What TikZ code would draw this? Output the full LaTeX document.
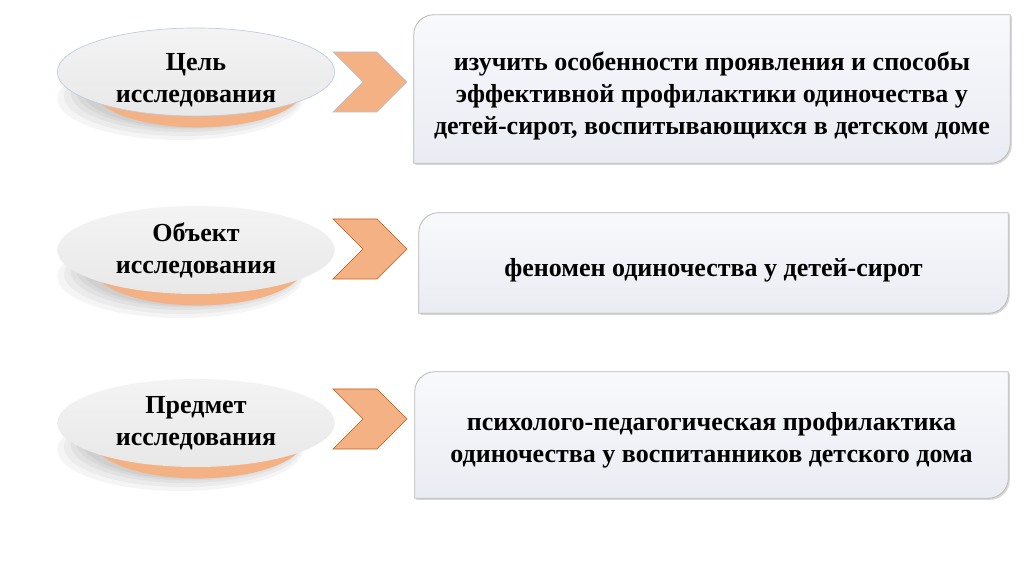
\documentclass[tikz,border=0pt]{standalone}
\usepackage{fontspec}
\setmainfont{Liberation Serif}
\usepackage{tikz}
\usetikzlibrary{shapes.geometric,shadows,positioning}
\pgfdeclarelayer{bg}
\pgfsetlayers{bg,main}
\definecolor{peach}{RGB}{244,177,131}
\definecolor{rust}{RGB}{197,90,17}
\definecolor{haze}{RGB}{150,170,200}
\definecolor{boxtop}{RGB}{248,249,252}
\definecolor{boxbot}{RGB}{234,236,243}
\tikzset{
    %Define style for the left ellipses
    aim/.style={
           ellipse,
           draw=none,
           top color=gray!9,
           bottom color=gray!18,
           minimum width=208pt,
           minimum height=66pt,
           inner sep=0pt},
    %Define style for all text
    infotext/.style={
           align=center,
           inner sep=0pt,
           font=\fontsize{19.5}{24}\selectfont\bfseries},
    %Define style for the orange rims
    rim/.style={fill=peach},
    %Define style for the soft shadows
    shade/.style={fill=black, opacity=0.04},
    %Define style for the boxes
    infobox/.style={
           rectangle,
           inner sep=0pt},
    boxshape/.style={
           draw=gray!55, line width=0.6pt,
           top color=boxtop, bottom color=boxbot,
           drop shadow={shadow xshift=1.2pt, shadow yshift=-1.2pt,
                        opacity=0.3, fill=black!50}},
    % Define chevron
    chevron/.pic={
           \path[pic actions] (-37,-30) -- (7,-30) -- (37,0) -- (7,30)
                -- (-37,30) -- (-7,0) -- cycle;},
    arrowpale/.style={fill=peach, draw=haze!70, line width=0.5pt},
    arrowdark/.style={fill=peach, draw=rust, line width=0.5pt}
}
\newcommand{\roundbox}[1]{%
  \path[boxshape] (#1.south west) -- ([yshift=-15pt]#1.north west)
     arc[start angle=180, end angle=90, radius=15pt] -- (#1.north east)
     -- ([yshift=15pt]#1.south east)
     arc[start angle=0, end angle=-90, radius=15pt] -- cycle;}

\begin{document}
\begin{tikzpicture}[x=0.75pt,y=0.75pt]
\begin{pgfonlayer}{bg}
\fill[white] (0,0) rectangle (1024,574);
\end{pgfonlayer}
\useasboundingbox (0,0) rectangle (1024,574);
\coordinate (c1) at (196,502);
\coordinate (c2) at (196,324);
\coordinate (c3) at (196,151);
% shadows and rims
\foreach \c in {c1,c2,c3}{
  \fill[shade] ([xshift=-12pt,yshift=-20pt]\c) ellipse [x radius=92pt, y radius=31pt];
  \fill[shade] ([xshift=-10pt,yshift=-18pt]\c) ellipse [x radius=89pt, y radius=30pt];
  \fill[shade] ([xshift=-8pt,yshift=-16pt]\c) ellipse [x radius=86pt, y radius=29pt];
  \fill[shade] ([xshift=-6pt,yshift=-14pt]\c) ellipse [x radius=84pt, y radius=29pt];
  \fill[shade] ([xshift=-4pt,yshift=-13pt]\c) ellipse [x radius=82pt, y radius=29pt];
  \fill[rim] ([xshift=1.5pt,yshift=-12.5pt]\c) ellipse [x radius=79pt, y radius=29pt];
}
\node[aim, draw=haze!60, line width=0.5pt](e1) at (c1){};
\node[aim](e2) at (c2){};
\node[aim](e3) at (c3){};
\node[infotext, yshift=-6.5pt](l1) at (e1.center){Цель\\исследования};
\node[infotext](l2) at (e2.center){Объект\\исследования};
\node[infotext](l3) at (e3.center){Предмет\\исследования};

\pic[arrowpale] at (370,492) {chevron};
\pic[arrowdark] at (370,325) {chevron};
\pic[arrowdark] at (370,155) {chevron};

\node[infobox, minimum width=447pt, minimum height=111pt](b1) at (712,485){};
\node[infobox, minimum width=441.75pt, minimum height=75pt](b2) at (713.5,311){};
\node[infobox, minimum width=444.75pt, minimum height=94.5pt](b3) at (711.5,139){};
\roundbox{b1}
\roundbox{b2}
\roundbox{b3}
\node[infotext, yshift=-5.6pt](t1) at (b1.center)
  {изучить особенности проявления и способы\\эффективной профилактики одиночества у\\детей-сирот, воспитывающихся в детском доме};
\node[infotext, yshift=-5.2pt](t2) at (b2.center)
  {феномен одиночества у детей-сирот};
\node[infotext, yshift=-3.8pt](t3) at (b3.center)
  {психолого-педагогическая профилактика\\одиночества у воспитанников детского дома};
\end{tikzpicture}
\end{document}
